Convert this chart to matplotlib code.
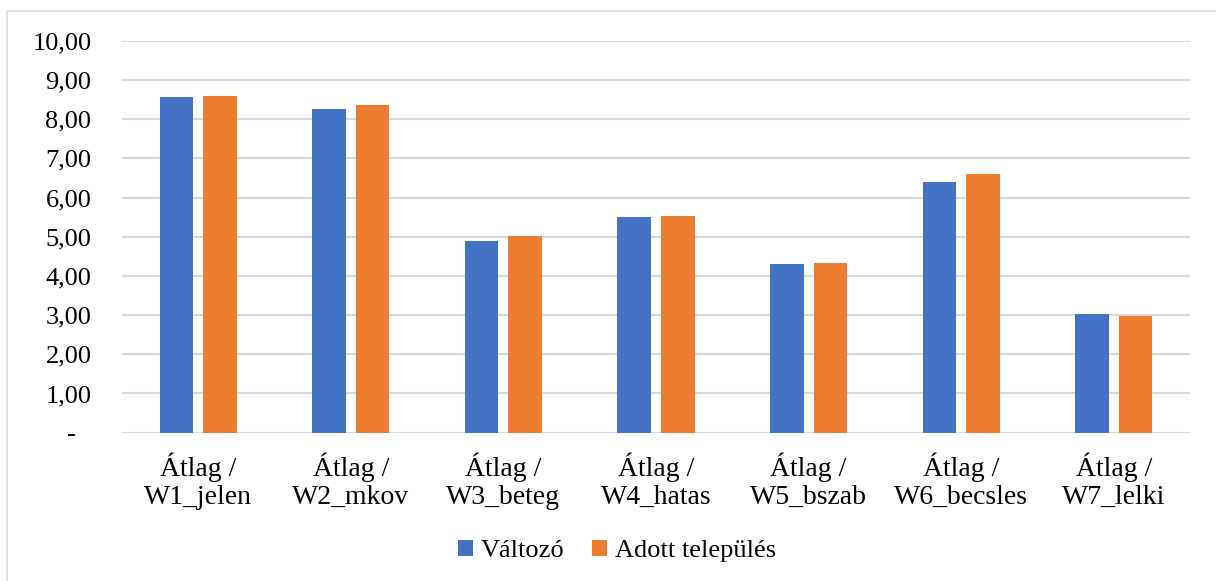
import matplotlib
matplotlib.use("Agg")
import matplotlib.pyplot as plt
import numpy as np
from matplotlib.patches import Rectangle
from matplotlib.transforms import ScaledTranslation

categories = ["Átlag /\nW1_jelen", "Átlag /\nW2_mkov", "Átlag /\nW3_beteg", "Átlag /\nW4_hatas",
              "Átlag /\nW5_bszab", "Átlag /\nW6_becsles", "Átlag /\nW7_lelki"]
valtozo = [8.56, 8.27, 4.88, 5.49, 4.30, 6.39, 3.02]
adott = [8.58, 8.36, 5.03, 5.54, 4.33, 6.59, 2.98]
series_names = ["Változó", "Adott település"]
yticks = [0, 1, 2, 3, 4, 5, 6, 7, 8, 9, 10]

plt.rcParams['font.family'] = ['Liberation Serif', 'DejaVu Serif']

W, H = 1216, 581
fig = plt.figure(figsize=(W/100, H/100), dpi=100)
ax = fig.add_axes([122/W, 1-432.7/H, (1190-122)/W, (432.7-40.7)/H])

x = np.arange(len(categories))
bw = 0.22
off = 0.143
ax.bar(x - off, valtozo, bw, color="#4472C4", label=series_names[0], zorder=3)
ax.bar(x + off, adott, bw, color="#ED7D31", label=series_names[1], zorder=3)

ax.set_xlim(-0.5, len(categories) - 0.5)
ax.set_ylim(0, 10)
ax.set_yticks(yticks)
ax.set_yticklabels(["-"] + [f"{v:.2f}".replace(".", ",") for v in yticks[1:]])
ax.set_xticks(x)
ax.set_xticklabels(categories, fontsize=20, linespacing=1.17)
ax.tick_params(axis='y', length=0, pad=22, labelsize=19)
ax.tick_params(axis='x', length=0, pad=14)
ax.grid(axis='y', color="#d9d9d9", linewidth=1.5, zorder=0)
for s in ax.spines.values():
    s.set_visible(False)

# shift the zero label "-" leftwards as in the reference
lab0 = ax.get_yticklabels()[0]
lab0.set_transform(lab0.get_transform() + ScaledTranslation(-16/100, 0, fig.dpi_scale_trans))

leg = fig.legend(loc="center", bbox_to_anchor=(617/W, 1-551/H), ncol=2, frameon=False,
                 fontsize=19, handlelength=0.55, handleheight=0.55, handletextpad=0.3,
                 columnspacing=1.06)

# chart-area border (only top and left edges are visible in the reference)
fig.patches.append(Rectangle((7/W, -0.05), 1.1, 1.05-11/H, transform=fig.transFigure,
                             fill=False, edgecolor="#d9d9d9", linewidth=1.2, clip_on=False))

fig.savefig("out.png", dpi=100)
